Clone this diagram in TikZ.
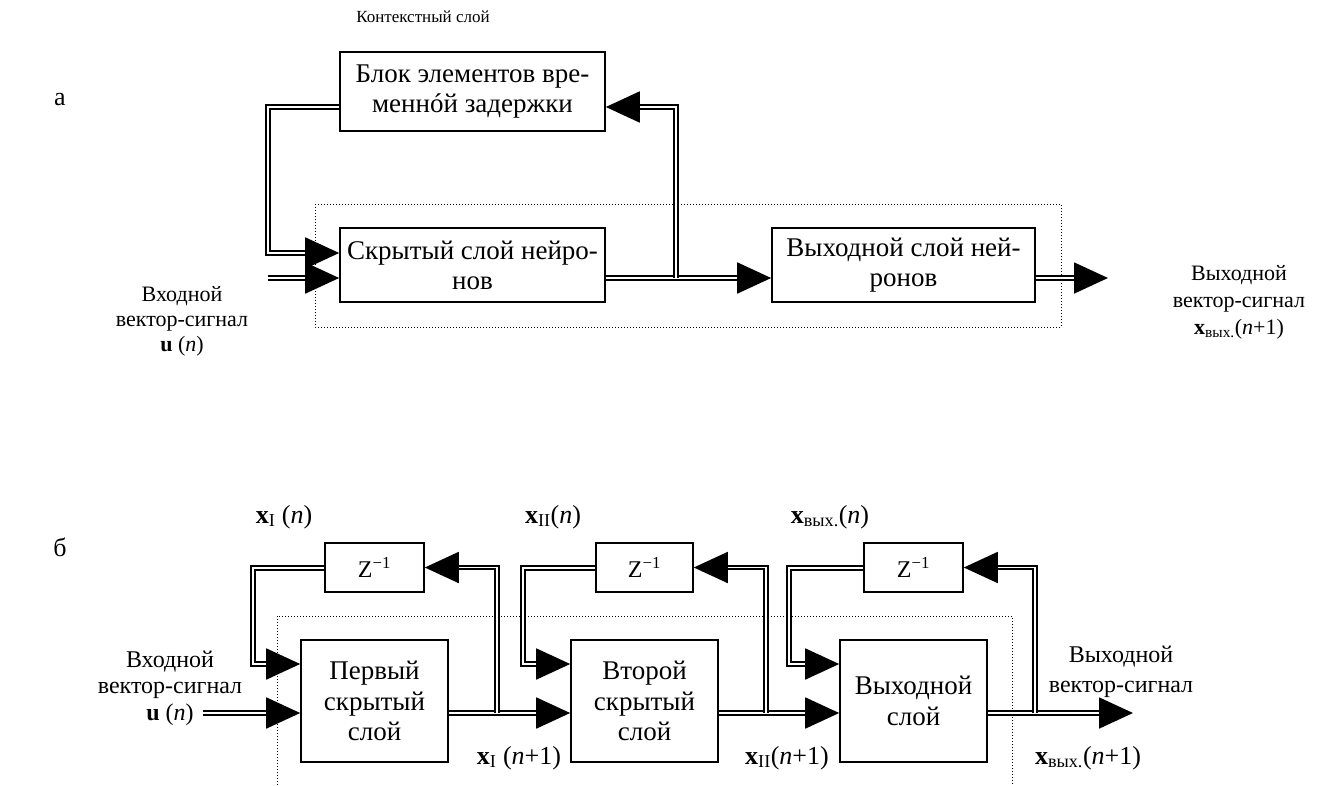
\documentclass[tikz,border=0pt]{standalone}
\usepackage{fontspec}
\setmainfont{Liberation Serif}
\usetikzlibrary{arrows.meta}
\newcommand\fsz[2]{\fontsize{#1}{#2}\selectfont}
\tikzset{
  blk/.style={draw, line width=1.6pt, align=center, inner sep=0pt},
  bigblk/.style={blk, font=\fsz{27}{30}},
  layer/.style={blk, font=\fsz{27}{30.5}, minimum width=147pt, minimum height=122pt},
  zbox/.style={blk, font=\fsz{24}{26}, minimum height=49pt},
  sig/.style={line width=1.8pt, double distance=1.8pt, double=white},
  arr/.style={sig, -{Triangle[length=34pt,width=31pt]}},
  frame/.style={line width=1pt, dash pattern=on 1pt off 2pt},
  lbl/.style={align=center, inner sep=0pt},
  vlbl/.style={lbl, font=\fsz{26}{28}},
}
\begin{document}
\begin{tikzpicture}[x=1pt, y=-1pt]
\useasboundingbox (0,0) rectangle (1318,785);

% ---------- а: network with a context layer ----------
\node[lbl, font=\fsz{17}{20}] (ctxlbl) at (423,17) {Контекстный слой};
\node[lbl, font=\fsz{26}{28}] (capA) at (60,100) {а};

\node[bigblk, minimum width=265pt, minimum height=79pt] (delay) at (472.5,91.5)
  {Блок элементов вре-\\меннóй задержки};
\node[bigblk, minimum width=265pt, minimum height=74pt] (hidden) at (472.5,265)
  {Скрытый слой нейро-\\нов};
\node[bigblk, minimum width=263pt, minimum height=74pt] (outl) at (903.5,265)
  {Выходной слой ней-\\ронов};

\draw[frame] (315,204) rectangle (1061,327);

\coordinate (fbTop) at (268,107);
\coordinate (fbBot) at (268,253);
\coordinate (inA) at (268,278);
\coordinate (brBot) at (676,278);
\coordinate (brTop) at (676,107);
\coordinate (outA) at (1108,278);

\draw[arr] (delay.west |- fbTop) -- (fbTop) -- (fbBot) -- (fbBot -| hidden.west);
\draw[arr] (inA) -- (inA -| hidden.west);
\draw[arr] (hidden.east |- inA) -- (outl.west |- inA);
\draw[arr] (brBot) -- (brTop) -- (brTop -| delay.east);
\draw[arr] (outl.east |- inA) -- (outA);

\node[lbl, font=\fsz{22}{25}] (inAlbl) at (182,321)
  {Входной\\вектор-сигнал\\\textbf{u} (\textit{n})};
\node[lbl, font=\fsz{22}{27}] (outAlbl) at (1239,302)
  {Выходной\\вектор-сигнал\\\textbf{x}\textsubscript{вых.}(\textit{n}+1)};

% ---------- б: cascade of layers with unit delays ----------
\node[lbl, font=\fsz{26}{28}] (capB) at (60,547) {б};

\node[zbox, minimum width=99pt] (z1) at (374.5,567.5) {Z\textsuperscript{−1}};
\node[zbox, minimum width=97pt] (z2) at (644.5,567.5) {Z\textsuperscript{−1}};
\node[zbox, minimum width=99pt] (z3) at (913.5,567.5) {Z\textsuperscript{−1}};

\node[layer] (l1) at (374.5,701) {Первый\\скрытый\\слой};
\node[layer] (l2) at (644.5,701) {Второй\\скрытый\\слой};
\node[layer] (l3) at (913.5,701) {Выходной\\слой};

\draw[frame] (277,785) -- (277,616) -- (1012,616) -- (1012,785);

\coordinate (inB) at (203,713);
\coordinate (outB) at (1133,713);
\coordinate (c1) at (253,568);
\coordinate (c2) at (523,568);
\coordinate (c3) at (789,568);
\coordinate (b1) at (497,713);
\coordinate (b2) at (766,713);
\coordinate (b3) at (1035,713);

% forward path
\draw[arr] (inB) -- (inB -| l1.west);
\draw[arr] (l1.east |- inB) -- (l2.west |- inB);
\draw[arr] (l2.east |- inB) -- (l3.west |- inB);
\draw[arr] (l3.east |- inB) -- (outB);

% delayed feedback into each layer
\draw[arr] (z1.west |- c1) -- (c1) -- ++(0,96) -- ([yshift=37pt]l1.west);
\draw[arr] (z2.west |- c2) -- (c2) -- ++(0,96) -- ([yshift=37pt]l2.west);
\draw[arr] (z3.west |- c3) -- (c3) -- ++(0,96) -- ([yshift=37pt]l3.west);

% taps from each layer output into the delays
\draw[arr] (b1) -- (b1 |- z1.east) -- (z1.east);
\draw[arr] (b2) -- (b2 |- z2.east) -- (z2.east);
\draw[arr] (b3) -- (b3 |- z3.east) -- (z3.east);

\node[vlbl] (xIn) at (284,517) {\textbf{x}\textsubscript{I} (\textit{n})};
\node[vlbl] (xIIn) at (553,517) {\textbf{x}\textsubscript{II}(\textit{n})};
\node[vlbl] (xon) at (830,517) {\textbf{x}\textsubscript{вых.}(\textit{n})};

\node[vlbl] (xIn1) at (519,758) {\textbf{x}\textsubscript{I} (\textit{n}+1)};
\node[vlbl] (xIIn1) at (787,758) {\textbf{x}\textsubscript{II}(\textit{n}+1)};
\node[vlbl] (xon1) at (1088,758) {\textbf{x}\textsubscript{вых.}(\textit{n}+1)};

\node[lbl, font=\fsz{24}{26.5}] (inBlbl) at (170,688)
  {Входной\\вектор-сигнал\\\textbf{u} (\textit{n})};
\node[lbl, font=\fsz{24}{30}] (outBlbl) at (1121,672)
  {Выходной\\вектор-сигнал};
\end{tikzpicture}
\end{document}
